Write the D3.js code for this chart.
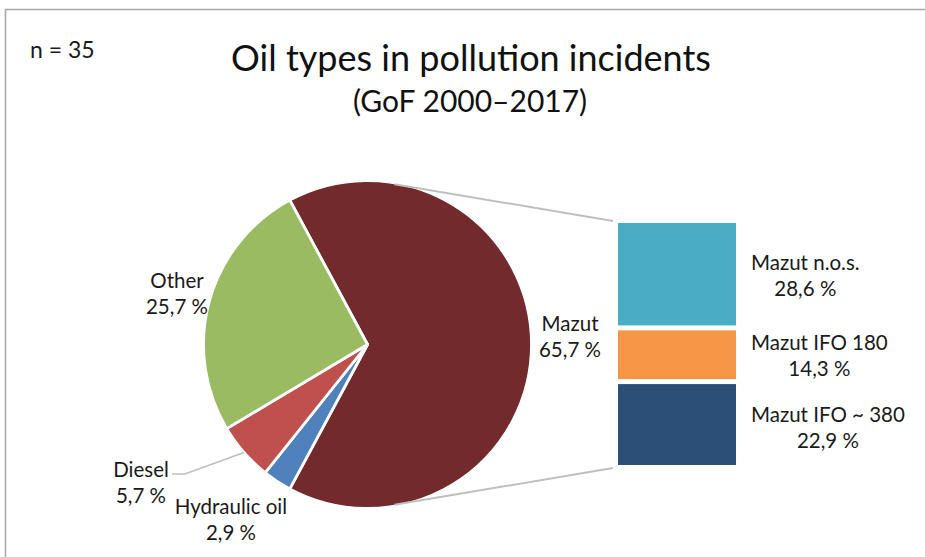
<!DOCTYPE html>
<html>
<head>
<meta charset="utf-8">
<script src="https://cdn.jsdelivr.net/npm/d3@7"></script>
<style>
  html, body { margin: 0; padding: 0; background: #fff; }
  svg { display: block; }
  text { font-family: Lato, "Open Sans", sans-serif; fill: #1a1a1a; }
  .title { fill: #111; }
</style>
</head>
<body>
<svg id="chart" width="925" height="557"></svg>
<script>
// Incident counts by oil type (n = 35)
const categories = ["Mazut", "Hydraulic oil", "Diesel", "Other"];
const counts = [23, 1, 2, 9];
const colors = ["#722a2d", "#4f81bd", "#c0504d", "#9bbb63"];

// Breakdown of the Mazut slice
const subCategories = ["Mazut n.o.s.", "Mazut IFO 180", "Mazut IFO ~ 380"];
const subCounts = [10, 5, 8];
const subColors = ["#4bacc6", "#f79646", "#2c4f78"];

const total = d3.sum(counts);
const titleText = "Oil types in pollution incidents";
const subtitleText = "(GoF 2000\u20132017)";
const nText = "n = " + total;

const fmt = v => (v * 100).toFixed(1).replace(".", ",") + " %";

const svg = d3.select("#chart");

// chart frame
svg.append("rect")
  .attr("x", 5.5).attr("y", 9.5)
  .attr("width", 1000).attr("height", 1000)
  .attr("fill", "none").attr("stroke", "#a6a6a6").attr("stroke-width", 1.5);

svg.append("text").attr("x", 30).attr("y", 58)
  .attr("font-size", 23).text(nText);
svg.append("text").attr("class", "title").attr("x", 471).attr("y", 71)
  .attr("text-anchor", "middle").attr("font-size", 36).text(titleText);
svg.append("text").attr("class", "title").attr("x", 470).attr("y", 112)
  .attr("text-anchor", "middle").attr("font-size", 30).text(subtitleText);

// ---- pie ----
const cx = 367.5, cy = 344.5, r = 164;
const mazutAngle = counts[0] / total * 2 * Math.PI;
const pie = d3.pie().sort(null).value(d => d)
  .startAngle(Math.PI / 2 - mazutAngle / 2)
  .endAngle(Math.PI / 2 - mazutAngle / 2 + 2 * Math.PI);
const arcs = pie(counts);
const arc = d3.arc().innerRadius(0).outerRadius(r);

const g = svg.append("g").attr("transform", `translate(${cx},${cy})`);

// ---- bar of the Mazut slice (stacked top to bottom) ----
const barX0 = 618, barX1 = 736, gap = 2.5;
const y = d3.scaleLinear().domain([0, d3.sum(subCounts)]).range([220.5, 467.5]);
const cum = d3.cumsum(subCounts);
const segs = subCounts.map((v, i) => ({ v, i, s: i ? cum[i - 1] : 0, e: cum[i] }));

// connector lines tangent to the pie, ending at the bar's corners
function tangentPoint(px, py, upper) {
  const dx = px - cx, dy = py - cy;
  const d = Math.hypot(dx, dy);
  const phi = Math.atan2(dy, dx);
  const a = Math.acos((r - 1.5) / d);
  const t = upper ? phi - a : phi + a;
  return [cx + (r - 1.5) * Math.cos(t), cy + (r - 1.5) * Math.sin(t)];
}
const p1 = [613, y(0) + 0.5], p2 = [613, y(d3.sum(subCounts)) + 0.5];
[[p1, true], [p2, false]].forEach(([p, up]) => {
  const t = tangentPoint(p[0], p[1], up);
  svg.append("line")
    .attr("x1", t[0]).attr("y1", t[1]).attr("x2", p[0]).attr("y2", p[1])
    .attr("stroke", "#bfbfbf").attr("stroke-width", 2);
});

g.selectAll("path.slice").data(arcs).join("path")
  .attr("class", "slice")
  .attr("d", arc)
  .attr("fill", (d, i) => colors[i])
  .attr("stroke", "#fff").attr("stroke-width", 2.8).attr("stroke-linejoin", "round");

svg.selectAll("rect.seg").data(segs).join("rect")
  .attr("class", "seg")
  .attr("x", barX0).attr("width", barX1 - barX0)
  .attr("y", d => y(d.s) + gap)
  .attr("height", d => y(d.e) - y(d.s) - 2 * gap)
  .attr("fill", d => subColors[d.i]);

// ---- labels ----
const fs = 20.5, lh = 26;
function twoLine(x, yBase, a, b, anchor) {
  const t = svg.append("text").attr("font-size", fs).attr("text-anchor", anchor || "middle");
  t.append("tspan").attr("x", x).attr("y", yBase).text(a);
  t.append("tspan").attr("x", x).attr("y", yBase + lh).text(b);
  return t;
}

// label centres for the pie slices
const pieLabelPos = {
  "Mazut": [570, 331],
  "Other": [177, 288],
  "Diesel": [141, 477],
  "Hydraulic oil": [231, 514]
};
arcs.forEach((d, i) => {
  const p = pieLabelPos[categories[i]];
  twoLine(p[0], p[1], categories[i], fmt(counts[i] / total));
});

// leader line for the Diesel label
{
  const d = arcs[2];
  const m = (d.startAngle + d.endAngle) / 2;
  const ex = cx + r * Math.sin(m), ey = cy - r * Math.cos(m);
  svg.append("polyline")
    .attr("points", `172,474 185,474 ${ex},${ey}`)
    .attr("fill", "none").attr("stroke", "#bfbfbf").attr("stroke-width", 1.6);
}

// bar labels: left-aligned block, each line centred within it
const barLabelBase = [270, 350, 422];
segs.forEach((d, k) => {
  const probe = svg.append("text").attr("font-size", fs).text(subCategories[k]);
  const w = probe.node().getComputedTextLength();
  probe.remove();
  twoLine(751 + w / 2, barLabelBase[k], subCategories[k], fmt(subCounts[k] / total));
});
</script>
</body>
</html>
